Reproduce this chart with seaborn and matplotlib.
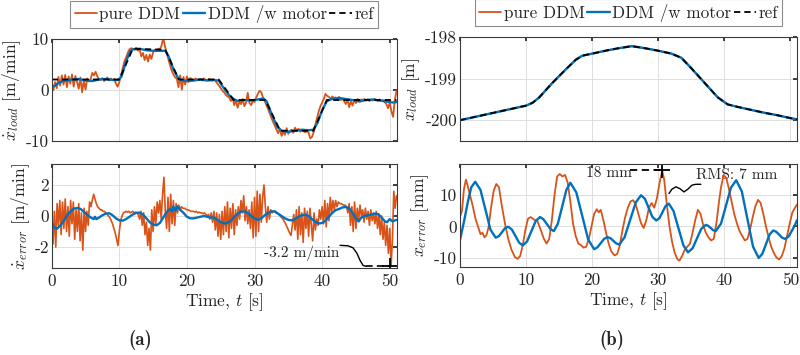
import numpy as np
import matplotlib
matplotlib.use('Agg')
import matplotlib.pyplot as plt
import seaborn as sns

# ---------------- (a) load velocity [m/min] ----------------
vel_ref_t = [0, 10, 12, 16.8, 18.8, 24.7, 26.9, 31.6, 33.8, 38.7, 40.7, 51]
vel_ref = [2, 2, 8, 7.8, 2, 2, -2, -2, -8, -8, -2, -2]

vel_motor_t = [0, 0.5, 1, 1.5, 2, 3, 4, 5, 6, 7, 8, 9, 9.8, 10.3, 11, 11.6, 12, 13, 14, 15,
               16, 16.8, 17.3, 18, 18.7, 19.2, 20, 21, 22, 23, 24, 24.7, 25.3, 26.2, 26.9,
               27.5, 28.5, 29.5, 30.5, 31.3, 31.8, 32.6, 33.4, 34, 35, 36, 37, 38, 38.7,
               39.3, 40, 40.7, 41.5, 42.5, 43.5, 44.5, 45.5, 46.5, 47.5, 48.5, 49.5, 50.5, 51]
vel_motor = [0.6, 0.8, 1.3, 1.6, 1.8, 2.0, 2.1, 1.8, 1.7, 2.0, 2.1, 1.9, 1.9, 2.5, 5.5, 7.5,
             7.9, 8.0, 7.7, 7.6, 7.6, 7.6, 6.5, 4.0, 2.3, 1.9, 1.7, 1.8, 2.0, 1.8, 1.9, 1.8,
             0.6, -1.0, -1.8, -2.2, -2.0, -2.1, -1.9, -1.7, -2.3, -5.0, -7.3, -8.0, -8.2,
             -8.0, -7.8, -7.9, -7.8, -6.5, -4.0, -2.2, -1.8, -1.6, -1.8, -2.0, -2.3, -2.0,
             -1.9, -2.1, -2.3, -2.5, -2.4]

# pure DDM, sampled every 0.25 s from 0 to 51 s
vel_pure = [
    1.2, -0.1, 1.5, 0.3, 2.5, 0.8, 2.8, 1.0,
    2.9, 0.5, 2.6, 1.2, 3.0, 0.6, 2.7, 1.5,
    0.2, 2.4, -0.5, 1.8, 0.0, 2.2, 1.6, 2.0,
    3.3, 2.8, 3.5, 2.6, 2.1, 1.9, 2.3, 1.7,
    2.1, 2.4, 1.8, 2.2, 1.9, 2.1, 1.2, 0.6,
    1.5, 2.8, 4.2, 5.5, 6.3, 7.2, 7.9, 8.1,
    8.0, 7.8, 8.2, 7.6, 7.9, 6.5, 7.2, 5.8,
    6.8, 5.5, 6.9, 6.0, 7.3, 7.8, 7.5, 8.0,
    7.9, 8.6, 10.2, 8.5, 7.2, 6.0, 4.8, 3.7,
    3.0, 2.4, 2.2, 0.5, 2.8, 0.0, 2.5, 1.0,
    2.6, 1.5, 2.3, 2.0, 1.8, 2.2, 2.0, 1.9,
    2.1, 1.8, 2.2, 2.0, 1.9, 2.1, 2.0, 1.8,
    2.0, 1.7, 1.2, 0.8, 0.3, -0.2, -0.5, -1.0,
    -1.3, -1.5, -2.2, -1.6, -3.0, -2.0, -3.5, -2.4,
    -2.8, -1.8, -3.2, -2.5, -0.6, -2.6, -3.0, -2.2,
    -2.4, -1.5, -0.8, -0.2, -0.5, -1.5, -2.2, -3.0,
    -3.8, -4.6, -5.5, -6.3, -7.0, -7.8, -8.5, -7.6,
    -9.0, -8.2, -8.8, -7.5, -8.6, -8.0, -7.8, -8.4,
    -7.4, -8.0, -7.6, -8.2, -7.9, -8.1, -8.3, -8.0,
    -8.4, -9.5, -9.2, -8.3, -6.8, -5.5, -4.2, -3.2,
    -2.5, -1.8, -0.8, -1.2, -1.4, -1.8, -1.3, -1.6,
    -1.5, -1.7, -1.4, -2.0, -1.8, -2.2, -2.8, -1.9,
    -3.4, -2.2, -3.1, -2.0, -2.6, -1.8, -2.1, -1.9,
    -2.0, -1.8, -2.1, -1.9, -2.2, -2.0, -2.1, -1.8,
    -2.0, -2.2, -1.9, -2.1, -2.0, -2.4, -2.8, -3.6,
    -2.5, -4.2, -5.3, -2.0, -0.2]

# ---------------- (a) velocity error [m/min] ----------------
# pure DDM, sampled every 0.2 s
verr_pure = [
    -0.5, -1.8, 0.3, -2.0, 0.8, -0.6, 1.0, -1.2, 0.9, -0.8,
    1.1, -1.0, 0.6, -1.3, 1.0, -0.5, 0.9, -1.5, 0.4, -1.0,
    0.8, -1.6, 0.2, -2.2, 0.5, -1.0, 0.3, -0.6, 0.9, 0.6,
    1.0, 1.4, 1.1, 0.8, 0.6, 0.5, 0.4, 0.4, 0.3, 0.3,
    0.2, 0.1, 0.0, -0.1, -0.3, -0.5, -0.8, -1.1, -1.5, -1.9,
    -1.0, -0.3, 0.0, 0.2, 0.25, 0.3, 0.25, 0.3, 0.2, 0.25,
    0.3, 0.2, 0.25, 0.2, 0.1, -0.2, 0.3, -0.6, 0.2, -1.2,
    -0.4, -1.9, -0.8, -2.2, 0.4, -1.0, 0.6, -0.5, 0.9, 0.2,
    1.0, -0.2, 1.4, 2.5, 0.3, -0.8, 1.2, -1.0, 1.4, -0.5,
    1.0, -0.6, 0.8, 0.2, 0.7, 0.4, 0.6, 0.5, 0.5, 0.45,
    0.4, 0.4, 0.35, 0.3, 0.3, 0.3, 0.25, 0.3, 0.2, 0.25,
    0.2, 0.2, 0.15, 0.2, 0.1, 0.0, 0.1, -0.2, 0.2, -0.4,
    0.3, -0.9, 0.2, -1.3, 0.1, -1.5, 0.3, -1.2, 0.6, -1.0,
    0.9, -1.4, 0.5, -0.8, 0.8, -1.2, 0.4, -0.6, 0.6, -0.2,
    1.0, 0.2, 1.3, -0.3, 0.6, -0.5, 0.4, -0.8, 0.9, -1.4,
    1.2, -1.3, 1.6, -1.0, 1.4, -0.4, 1.2, 2.0, 0.6, -0.4,
    0.6, -0.2, 0.4, 0.2, 0.3, 0.25, 0.2, 0.15, 0.1, 0.0,
    -0.1, -0.2, -0.35, -0.5, -0.7, -0.9, -1.1, -1.25, -0.6, 0.1,
    -0.9, 0.4, -1.5, 0.6, -1.2, 0.2, -1.7, 0.5, -0.8, 0.3,
    -1.3, 0.5, -0.6, -1.6, 0.2, -0.9, -0.2, -0.6, 0.4, -0.2,
    0.6, -0.5, 1.0, -0.7, 0.8, -0.3, 1.2, 0.2, 1.0, 0.4,
    1.0, 0.6, 0.9, 0.8, 0.8, 0.75, 0.7, 0.7, 0.6, 0.2,
    0.8, -0.6, 0.6, -1.0, 0.9, -0.8, 0.5, -0.3, 0.7, 0.0,
    0.4, -0.4, 0.5, -0.2, 0.3, -0.6, 0.4, -0.3, 0.2, -0.5,
    0.3, -0.8, 0.1, -1.2, 0.0, -1.5, -0.4, -1.9, -0.6, -2.4,
    -0.8, -3.2, -1.5, 1.6, 0.5, 1.3]

verr_motor_t = [0, 0.4, 0.8, 1.3, 1.8, 2.3, 2.8, 3.3, 3.8, 4.3, 4.8, 5.3, 5.8, 6.2, 6.4, 6.6,
                7.0, 7.5, 8.0, 8.5, 9.0, 9.5, 10.0, 10.5, 11.0, 11.5, 12.0, 12.5, 13.0, 13.5,
                14.0, 14.5, 15.0, 15.5, 16.0, 16.5, 17.0, 17.5, 17.8, 18.0, 18.3, 18.6, 19.0,
                19.5, 20.0, 20.5, 21.0, 21.5, 22.0, 22.5, 23.0, 23.5, 24.0, 24.5, 25.0, 25.5,
                26.0, 26.5, 27.0, 27.5, 28.0, 28.5, 29.0, 29.5, 30.0, 30.5, 31.0, 31.5, 32.0,
                32.5, 33.0, 33.5, 34.0, 34.5, 35.0, 35.5, 36.0, 36.5, 37.0, 37.5, 38.0, 38.5,
                39.0, 39.5, 40.0, 40.5, 41.0, 41.5, 42.0, 42.5, 43.0, 43.5, 44.0, 44.5, 45.0,
                45.4, 45.8, 46.3, 46.8, 47.3, 47.8, 48.3, 48.8, 49.3, 49.6, 50.0, 50.4, 50.8, 51.0]
verr_motor = [-0.45, -0.75, -0.82, -0.6, -0.3, 0.05, 0.3, 0.48, 0.52, 0.45, 0.25, 0.05, -0.1,
              -0.2, -0.05, -0.2, -0.1, 0.05, 0.15, 0.18, 0.05, -0.15, -0.28, -0.3, -0.2, -0.05,
              0.1, 0.2, 0.22, 0.1, -0.15, -0.4, -0.55, -0.6, -0.45, -0.1, 0.25, 0.45, 0.3, 0.6,
              0.35, 0.62, 0.4, 0.2, -0.05, -0.15, -0.15, -0.1, -0.05, 0.0, -0.05, -0.1, -0.1,
              -0.25, -0.4, -0.48, -0.45, -0.3, -0.05, 0.15, 0.28, 0.3, 0.2, 0.0, -0.15, -0.25,
              -0.15, 0.05, 0.2, 0.3, 0.3, 0.15, 0.0, -0.15, -0.25, -0.28, -0.2, -0.05, 0.05,
              0.08, 0.0, -0.2, -0.38, -0.48, -0.45, -0.3, -0.05, 0.2, 0.38, 0.45, 0.55, 0.58,
              0.5, 0.2, -0.15, -0.35, -0.1, 0.0, 0.05, 0.1, 0.15, 0.12, -0.1, -0.35, -0.4,
              -0.2, -0.35, -0.28, -0.25]

# ---------------- (b) load position [m] ----------------
pos_t = [0, 2, 4, 6, 8, 10, 11, 12, 14, 16, 17.5, 18.5, 20, 22, 24, 26, 28, 30, 32, 33.5,
         35, 37, 39, 40.5, 42, 44, 46, 48, 50, 51]
pos_ref = [-200, -199.93, -199.86, -199.79, -199.72, -199.65, -199.58, -199.45, -199.1,
           -198.78, -198.55, -198.45, -198.4, -198.33, -198.27, -198.22, -198.27, -198.33,
           -198.4, -198.5, -198.75, -199.1, -199.45, -199.62, -199.68, -199.75, -199.82,
           -199.88, -199.95, -199.98]
pos_motor = pos_ref
pos_pure = pos_ref

# ---------------- (b) position error [mm] ----------------
perr_pure_t = [0.0, 0.3, 0.6, 0.9, 1.1, 1.4, 1.9, 2.4, 2.8, 3.1, 3.4, 3.7, 4.0, 4.3, 4.7,
               5.1, 5.5, 5.9, 6.3, 6.8, 7.3, 7.8, 8.3, 8.7, 9.1, 9.5, 9.9, 10.3, 10.7, 11.2,
               11.7, 12.2, 12.7, 13.1, 13.5, 13.9, 14.3, 14.7, 15.1, 15.5, 15.9, 16.3, 16.7,
               17.1, 17.5, 17.9, 18.3, 18.7, 19.1, 19.5, 19.9, 20.3, 20.7, 21.0, 21.3, 21.7,
               22.1, 22.5, 22.9, 23.4, 23.8, 24.2, 24.6, 25.0, 25.4, 25.8, 26.2, 26.6, 27.0,
               27.4, 27.8, 28.2, 28.6, 29.0, 29.4, 29.8, 30.2, 30.6, 30.9, 31.3, 31.7, 32.1,
               32.5, 32.9, 33.2, 33.6, 34.0, 34.4, 34.8, 35.2, 35.6, 36.0, 36.4, 36.8, 37.2,
               37.6, 38.0, 38.4, 38.8, 39.2, 39.5, 39.9, 40.3, 40.7, 41.1, 41.5, 41.9, 42.3,
               42.7, 43.1, 43.5, 43.9, 44.3, 44.7, 45.1, 45.5, 45.9, 46.3, 46.7, 47.1, 47.5,
               47.9, 48.3, 48.7, 49.1, 49.5, 49.9, 50.3, 50.7, 51.0]
perr_pure = [3.0, 5, 12, 15, 13.5, 11, 6.8, 2, -0.5, -2.5, -2, -3.5, -2.8, -0.5, 6, 11.5,
             13.6, 12.5, 7, 1, -4, -7.5, -9.8, -10.4, -9.5, -6, -1, 2.5, 3, 2.2, 1.8, -1, -4,
             -5.5, -4, 2, 10, 16, 16.8, 16, 16.5, 14, 8, 1, -3, -5.5, -6, -6.8, -6.5, -4, 0,
             4, 5.5, 4.5, 5.3, 2, -2, -5.5, -8, -9.3, -8.8, -6, -1, 3, 6, 8, 8.4, 7, 4, 1,
             -0.5, 2, 6, 7.5, 6, 9, 14, 17.8, 15, 7, 0, -5, -8.5, -10.5, -11, -9.5, -7.5,
             -6.5, -5.5, -2, 2, 5.3, 4, 0.5, -2, -3.5, -4.5, -4, 1, 8, 12.5, 16.5, 15.5, 12,
             8, 4, 1, -1.5, -3, -4.5, -4, -1, 3, 6.5, 8.5, 7.5, 4, 0, -3.5, -6.5, -8.5, -10,
             -10.6, -9.5, -7, -3, 1, 4.5, 6, 7]

perr_motor_t = [0, 0.6, 1.2, 1.7, 2.3, 3.1, 3.85, 4.6, 5.4, 5.9, 6.35, 6.8, 7.3, 7.85, 8.4,
                8.95, 9.5, 10.15, 10.8, 11.45, 12.1, 12.6, 13.15, 13.7, 14.2, 14.8, 15.45,
                16.1, 16.7, 17.6, 18.5, 19.4, 20.3, 20.8, 21.3, 21.8, 22.3, 22.75, 23.2, 23.65,
                24.1, 24.9, 25.75, 26.6, 27.4, 28.0, 28.55, 29.1, 29.7, 30.2, 30.65, 31.1, 31.6,
                32.3, 33.05, 33.8, 34.5, 35.2, 35.85, 36.5, 37.2, 37.55, 37.95, 38.3, 38.7,
                39.5, 40.25, 41.0, 41.8, 42.65, 43.5, 44.35, 45.2, 45.75, 46.3, 46.85, 47.4,
                47.85, 48.3, 48.75, 49.2, 49.7, 50.2, 50.7, 51.0]
perr_motor = [-4.3, 1.5, 8, 12.5, 14.3, 11.7, 5.4, -1.0, -3.6, -3.1, -1.85, -0.6, -0.1, -1.0,
              -3.1, -5.2, -6.1, -4.8, -1.55, 1.7, 3, 2.35, 0.75, -0.85, -1.5, 0.8, 6.25, 11.7,
              14, 10.9, 3.35, -4.2, -7.3, -6.7, -5.35, -4.0, -3.4, -3.75, -4.6, -5.45, -5.8,
              -3.5, 2.1, 7.7, 10, 8.8, 5.95, 3.1, 1.9, 2.7, 4.6, 6.5, 7.3, 5.0, -0.5, -6.0,
              -8.3, -7.0, -3.9, -0.8, 0.5, 0.2, -0.5, -1.2, -1.5, 0.9, 6.65, 12.4, 14.8, 11.2,
              2.35, -6.5, -10.1, -8.8, -5.7, -2.6, -1.3, -1.7, -2.65, -3.6, -4, -3.3, -1.5,
              0.5, 2.0]

legend_labels = ['pure DDM', 'DDM /w motor', 'ref']
c_pure = '#D95319'
c_motor = '#0072BD'
c_ref = 'black'

sns.set_theme(style='whitegrid')
plt.rcParams.update({
    'font.family': ['cmr10', 'DejaVu Serif'],
    'mathtext.fontset': 'cm',
    'axes.unicode_minus': False,
    'font.size': 12,
    'axes.edgecolor': '#3a3a3a',
    'axes.linewidth': 0.8,
    'grid.color': '#dedede',
    'grid.linewidth': 0.7,
})

fig = plt.figure(figsize=(8, 3.55), dpi=100)
W, H = 800, 355


def place(left, top, right, bottom):
    return fig.add_axes([left / W, 1 - bottom / H, (right - left) / W, (bottom - top) / H])


ax_a1 = place(51.7, 38.5, 396.5, 141)
ax_a2 = place(51.7, 164, 396.5, 268)
ax_b1 = place(460, 37, 797, 141)
ax_b2 = place(460, 164, 797, 267)

t_vel = np.linspace(0, 51, len(vel_pure))
t_verr = np.linspace(0, 51, len(verr_pure))

line_kw = dict(estimator=None, sort=False)

# (a) top
sns.lineplot(x=t_vel, y=vel_pure, ax=ax_a1, color=c_pure, lw=1.3, label=legend_labels[0], **line_kw)
sns.lineplot(x=vel_motor_t, y=vel_motor, ax=ax_a1, color=c_motor, lw=1.7, label=legend_labels[1], **line_kw)
sns.lineplot(x=vel_ref_t, y=vel_ref, ax=ax_a1, color=c_ref, lw=1.3, ls=(0, (3.5, 2.2)), label=legend_labels[2], **line_kw)

# (a) bottom
sns.lineplot(x=t_verr, y=verr_pure, ax=ax_a2, color=c_pure, lw=1.2, **line_kw)
sns.lineplot(x=verr_motor_t, y=verr_motor, ax=ax_a2, color=c_motor, lw=1.7, **line_kw)

# (b) top
sns.lineplot(x=pos_t, y=pos_pure, ax=ax_b1, color=c_pure, lw=1.3, label=legend_labels[0], **line_kw)
sns.lineplot(x=pos_t, y=pos_motor, ax=ax_b1, color=c_motor, lw=1.7, label=legend_labels[1], **line_kw)
sns.lineplot(x=pos_t, y=pos_ref, ax=ax_b1, color=c_ref, lw=1.3, ls=(0, (3.5, 2.2)), label=legend_labels[2], **line_kw)

# (b) bottom
sns.lineplot(x=perr_pure_t, y=perr_pure, ax=ax_b2, color=c_pure, lw=1.3, **line_kw)
sns.lineplot(x=perr_motor_t, y=perr_motor, ax=ax_b2, color=c_motor, lw=1.7, **line_kw)


def style(ax, ylim, yticks, ylabel, bottom):
    ax.set_xlim(0, 51)
    ax.set_ylim(*ylim)
    ax.set_xticks(range(0, 51, 10))
    ax.set_yticks(yticks)
    ax.grid(True)
    ax.tick_params(direction='in', length=3, top=True, right=True, labelsize=12.5,
                   colors='#262626', pad=2)
    ax.set_ylabel(ylabel, fontsize=12.5, labelpad=2)
    if bottom:
        ax.set_xlabel(r'Time, $t$ [s]', fontsize=12.5, labelpad=2)
    else:
        ax.set_xticklabels([])
        ax.set_xlabel('')


style(ax_a1, (-10, 10), [-10, 0, 10], r'$\dot{x}_{load}$ [m/min]', False)
style(ax_a2, (-3.35, 3.35), [-2, 0, 2], r'$\dot{x}_{error}$ [m/min]', True)
style(ax_b1, (-200.5, -198), [-200, -199, -198], r'$x_{load}$ [m]', False)
style(ax_b2, (-13, 20), [-10, 0, 10], r'$x_{error}$ [mm]', True)
ax_a2.tick_params(axis='x', pad=4)
ax_b2.tick_params(axis='x', pad=4)

for ax in (ax_a1, ax_b1):
    leg = ax.legend(loc='center', bbox_to_anchor=(0.5, 1.235), ncol=3, fontsize=12.3,
                    frameon=True, fancybox=False, edgecolor='#8c8c8c', framealpha=1,
                    handlelength=1.3, handletextpad=0.15, columnspacing=0.15,
                    borderpad=0.25, borderaxespad=0)
    leg.get_frame().set_linewidth(0.8)

# annotation on (a): minimum error
ax_a2.plot([42.65, 43.83, 44.57, 45.16, 45.61, 46.05, 46.5],
           [-1.89, -1.92, -2.05, -2.41, -2.86, -3.18, -3.25], color='black', lw=1.0)
ax_a2.plot([46.5, 50.1], [-3.25, -3.25], color='black', lw=1.2, ls=(0, (4, 2.5)))
ax_a2.plot([50.1], [-3.25], marker='+', color='black', ms=11, mew=1.3)
ax_a2.text(42.6, -2.4, '-3.2 m/min', fontsize=11, ha='right', va='center', zorder=1.5)

# annotations on (b): peak and RMS
ax_b2.text(19.1, 17.1, '18 mm', fontsize=11, ha='left', va='center', zorder=1.5)
ax_b2.plot([25.8, 30.5], [18.0, 18.0], color='black', lw=1.3, ls=(0, (4, 2.5)))
ax_b2.plot([30.5], [18.0], marker='+', color='black', ms=11, mew=1.3)
ax_b2.plot([31.63, 32.08, 32.68, 33.28, 33.89, 34.49, 35.09, 35.69, 36.45],
           [10.55, 11.94, 12.68, 12.1, 11.06, 11.94, 13.2, 13.5, 13.5], color='black', lw=1.0)
ax_b2.text(35.7, 16.4, 'RMS: 7 mm', fontsize=11, ha='left', va='center', zorder=1.5)

fig.text(140 / W, 1 - 340 / H, '(a)', fontsize=13.5, fontfamily='cmb10', ha='center', va='center')
fig.text(612 / W, 1 - 340 / H, '(b)', fontsize=13.5, fontfamily='cmb10', ha='center', va='center')

fig.savefig('out.png', dpi=100)
